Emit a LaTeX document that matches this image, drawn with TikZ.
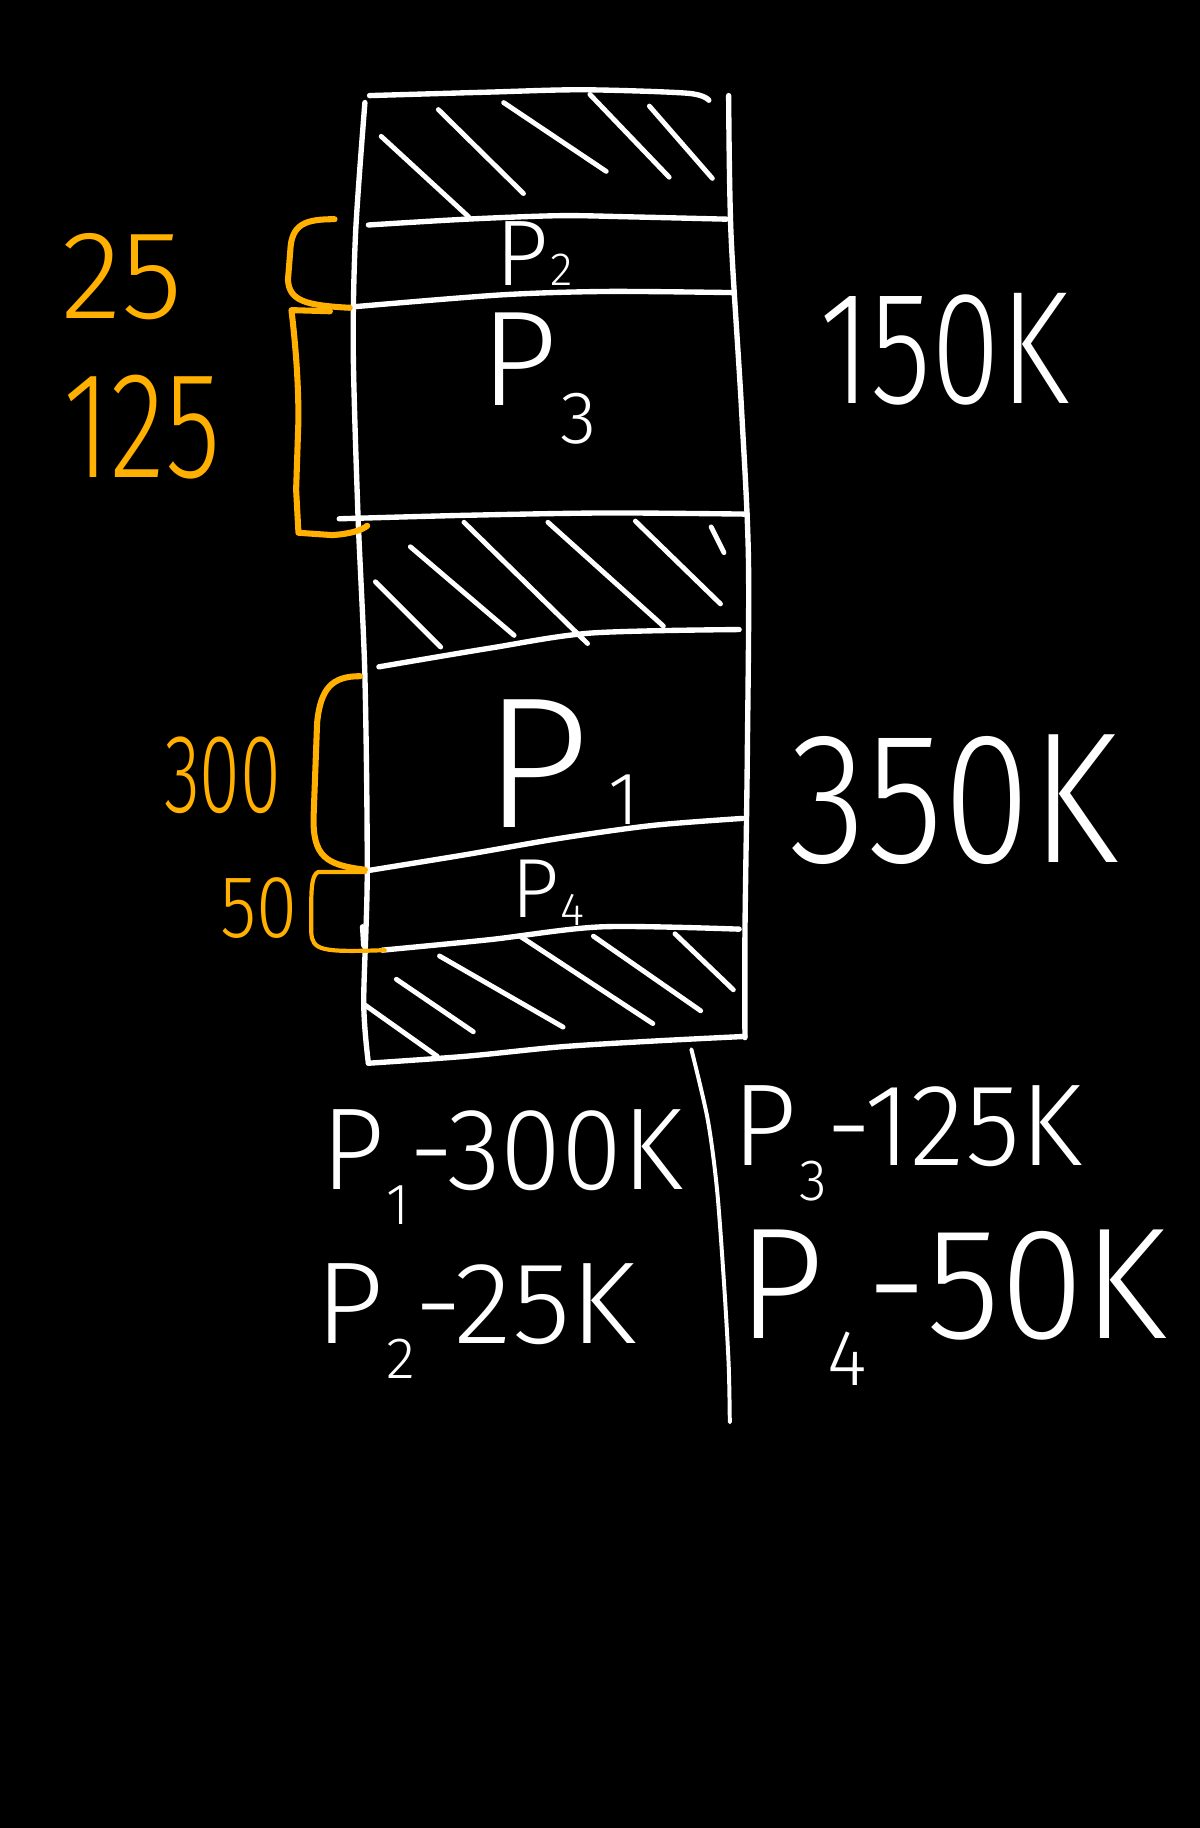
\documentclass[tikz,border=0pt]{standalone}
\usepackage{fontspec}
\usepackage{graphicx}
\newfontfamily\handfont{Fira Sans Light}
\definecolor{hl}{RGB}{255,176,0}
\tikzset{
  wl/.style={draw=white, line width=2.3pt, line cap=round, line join=round},
  hatchline/.style={draw=white, line width=2.1pt, line cap=round},
  ol/.style={draw=hl, line width=2.6pt, line cap=round, line join=round},
  wtxt/.style={text=white, inner sep=0pt, font=\handfont},
  otxt/.style={text=hl, inner sep=0pt, font=\handfont},
}
\newcommand\fs[1]{\fontsize{#1}{#1}\selectfont}
\newcommand\sx[2]{\scalebox{#1}[1]{#2}}
\newcommand\Pn[1]{P\kern.02em\raisebox{-.3em}{\scalebox{.5}{#1}}}
% P with subscript: kern, raise, scale, digit
\newcommand\Psub[4]{P\kern#1em\raisebox{#2em}{\scalebox{#3}{#4}}}
\begin{document}
\begin{tikzpicture}[x=0.5pt,y=-0.5pt]
\fill[black] (0,0) rectangle (1029,1568);
\useasboundingbox (0,0) rectangle (1029,1568);

% memory column outline
\draw[wl] plot[smooth] coordinates {(313,88) (305,200) (303,300) (307,440) (313,580) (315,750) (312,860) (316,912)};
\draw[wl] plot[smooth] coordinates {(316,912) (400,906) (480,898) (560,893) (639,889)};
\draw[wl] plot[smooth] coordinates {(625,82) (627,200) (636,350) (642,480) (641,650) (639,800) (639,890)};
\draw[wl] plot[smooth] coordinates {(317,82) (420,79) (500,77) (590,80) (608,86)};

% partition lines
\draw[wl] plot[smooth] coordinates {(316,193) (400,188) (480,185) (540,186) (623,188)};
\draw[wl] plot[smooth] coordinates {(305,263) (429,253) (520,250) (630,251)};
\draw[wl] plot[smooth] coordinates {(291,445) (400,442) (520,440) (641,441)};
\draw[wl] plot[smooth] coordinates {(325,572) (420,556) (507,543) (634,540)};
\draw[wl] plot[smooth] coordinates {(314,747) (400,733) (481,719) (560,708) (637,702)};
\draw[wl] plot[smooth] coordinates {(328,815) (420,806) (516,795) (634,797)};
\draw[wl] (311,795) -- (312,811);

% hatching top
\draw[hatchline] (327,117) -- (402,186);
\draw[hatchline] (376,94) -- (449,166);
\draw[hatchline] (432,88) -- (520,147);
\draw[hatchline] (506,81) -- (574,152);
\draw[hatchline] (557,91) -- (611,153);
% hatching middle
\draw[hatchline] (322,499) -- (378,555);
\draw[hatchline] (352,469) -- (441,545);
\draw[hatchline] (398,448) -- (504,552);
\draw[hatchline] (470,448) -- (569,537);
\draw[hatchline] (545,447) -- (618,518);
\draw[hatchline] (610,452) -- (621,474);
% hatching bottom
\draw[hatchline] (340,840) -- (406,885);
\draw[hatchline] (377,820) -- (483,881);
\draw[hatchline] (446,803) -- (560,878);
\draw[hatchline] (509,803) -- (601,867);
\draw[hatchline] (579,801) -- (629,849);
\draw[hatchline] (313,862) -- (375,906);

% orange braces
\draw[ol] (287,188) .. controls (262,188) and (250,192) .. (249,215) -- (247,240) .. controls (248,258) and (262,262) .. (300,264);
\draw[ol] (283,267) -- (250,266) .. controls (254,300) and (256,330) .. (256,360) -- (254,420) -- (256,457) -- (285,459) .. controls (300,458) and (310,455) .. (315,451);
\draw[ol] (309,580) .. controls (285,580) and (275,590) .. (272,620) -- (269,700) .. controls (268,735) and (280,742) .. (313,746);
\draw[ol, line width=1.8pt] (313,748) -- (273,748) .. controls (268,750) and (267,760) .. (267,775) -- (267,800) .. controls (268,815) and (275,817) .. (330,815);

% divider
\draw[wl, line width=1.7pt] plot[smooth] coordinates {(593,900) (607,960) (615,1020) (621,1100) (625,1170) (626,1220)};

% labels inside
\node[wtxt, anchor=base west] (p2) at (425,245) {\fs{40}\Psub{0.02}{0}{0.5}{2}};
\node[wtxt, anchor=base west] (p3) at (412,348) {\fs{58}\Psub{0.02}{-0.28}{0.55}{3}};
\node[wtxt, anchor=base west] (p1) at (414,710) {\fs{80}\Psub{0.1}{0.02}{0.4}{1}};
\node[wtxt, anchor=base west] (p4) at (438,787) {\fs{36}\Psub{0.02}{-0.1}{0.55}{4}};

% right totals
\node[wtxt] (t150) at (810,300) {\fs{69}\sx{0.78}{150K}};
\node[wtxt] (t350) at (818,686) {\fs{80}\sx{0.85}{350K}};

% orange sizes
\node[otxt] (o25) at (105,237) {\fs{54}\sx{1}{25}};
\node[otxt] (o125) at (122,366) {\fs{65}\sx{0.75}{125}};
\node[otxt] (o300) at (191,665) {\fs{48}\sx{0.66}{300}};
\node[otxt] (o50) at (222,779) {\fs{38}\sx{0.84}{50}};

% bottom list
\node[wtxt, anchor=base west] (l1) at (275,1020) {\fs{50}\sx{0.95}{\Pn{1}-300K}};
\node[wtxt, anchor=base west] (l2) at (270,1152) {\fs{50}\sx{1.03}{\Pn{2}-25K}};
\node[wtxt, anchor=base west] (l3) at (628,1000) {\fs{50}\sx{0.97}{\Pn{3}-125K}};
\node[wtxt, anchor=base west] (l4) at (632,1148) {\fs{68}\sx{0.96}{\Pn{4}-50K}};
\end{tikzpicture}
\end{document}
